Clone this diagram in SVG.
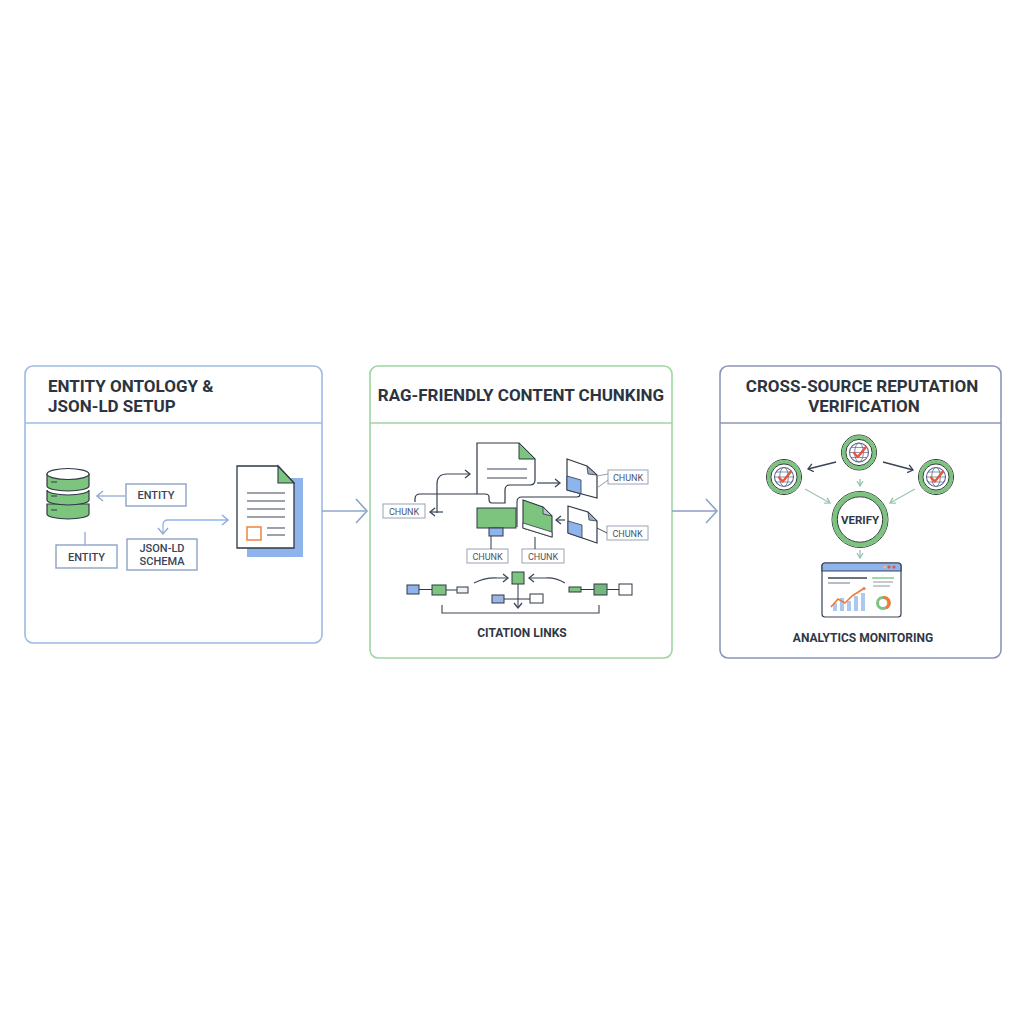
<svg xmlns="http://www.w3.org/2000/svg" width="1024" height="1024" viewBox="0 0 1024 1024">
<defs>
<style>
.title{font-family:Roboto,"Liberation Sans",Arial,sans-serif;font-weight:700;font-size:17px;fill:#2b3440}
.lbl{font-family:Roboto,"Liberation Sans",Arial,sans-serif;font-weight:500;font-size:11px;fill:#3a4456}
.chunk{font-family:Roboto,"Liberation Sans",Arial,sans-serif;font-size:9px;fill:#4a5466}
.cap{font-family:Roboto,"Liberation Sans",Arial,sans-serif;font-weight:700;font-size:12px;fill:#2f3846}
.box{fill:#fff;stroke:#8ea2c4;stroke-width:1.4}
.cbox{fill:#fff;stroke:#9aa3b4;stroke-width:1}
.ink{stroke:#2f3846;stroke-width:1.2}
.green{fill:#7dc47f}
.blue{fill:#8fb4ec}
</style>
<marker id="aDk" markerUnits="userSpaceOnUse" markerWidth="10" markerHeight="10" refX="7" refY="5" orient="auto-start-reverse" viewBox="0 0 10 10"><path d="M2,1 L7,5 L2,9" fill="none" stroke="#3a4456" stroke-width="1.3"/></marker>
<marker id="aBl" markerUnits="userSpaceOnUse" markerWidth="12" markerHeight="12" refX="9" refY="6" orient="auto-start-reverse" viewBox="0 0 12 12"><path d="M3,1 L9,6 L3,11" fill="none" stroke="#8fa8d4" stroke-width="1.4"/></marker>
<marker id="aBig" markerUnits="userSpaceOnUse" markerWidth="16" markerHeight="28" refX="13" refY="14" orient="auto" viewBox="0 0 16 28"><path d="M2,2 L13,14 L2,26" fill="none" stroke="#88a6c4" stroke-width="1.6"/></marker>
<marker id="aGr" markerUnits="userSpaceOnUse" markerWidth="8" markerHeight="8" refX="6" refY="4" orient="auto" viewBox="0 0 8 8"><path d="M1,1 L6,4 L1,7" fill="none" stroke="#8fc2a8" stroke-width="1.3"/></marker>
<g id="globe">
<circle r="17.5" fill="#fff" stroke="#2f3a36" stroke-width="1"/>
<circle r="15.2" fill="none" stroke="#7cc47f" stroke-width="3.8"/>
<circle r="13.1" fill="#fff" stroke="#2f3a36" stroke-width="1"/>
<circle r="9.5" fill="none" stroke="#5a6890" stroke-width="1.1"/>
<ellipse rx="4.3" ry="9.5" fill="none" stroke="#5a6890" stroke-width="0.8"/>
<path d="M-9.5,0 H9.5 M-8,-5 H8 M-8,5 H8" stroke="#5a6890" stroke-width="0.7" fill="none"/>
<path d="M-5,0.5 L-1.2,4.5 L7,-5.5" fill="none" stroke="#e8553a" stroke-width="2.4" stroke-linecap="round" stroke-linejoin="round"/>
</g>
</defs>
<rect width="1024" height="1024" fill="#fff"/>

<!-- Panel 1 -->
<g id="panel-entity">
<rect x="25" y="366" width="297" height="277" rx="8" fill="#fff" stroke="#9dbbe3" stroke-width="1.6"/>
<line x1="25" y1="423" x2="322" y2="423" stroke="#9dbbe3" stroke-width="1.4"/>
<text class="title" x="48" y="392">ENTITY ONTOLOGY &amp;</text>
<text class="title" x="48" y="412">JSON-LD SETUP</text>
</g>
<g id="database">
<path d="M47,504 V514 A21,5 0 0 0 89,514 V504 Z" class="green ink"/>
<path d="M47,490 V500 A21,5 0 0 0 89,500 V490 A21,5 0 0 1 47,490 Z" class="green ink"/>
<path d="M47,474 V486 A21,5 0 0 0 89,486 V474 Z" class="green ink"/>
<ellipse cx="68" cy="474" rx="21" ry="5.5" fill="#fff" class="ink"/>
<path d="M51,482 H57 M51,496 H57 M51,510 H57" stroke="#2f3846" stroke-width="1.2"/>
</g>
<g id="entity1"><rect class="box" x="126" y="484" width="60" height="22"/><text class="lbl" x="156" y="499" text-anchor="middle">ENTITY</text></g>
<g id="entity2"><rect class="box" x="56" y="545" width="61" height="23"/><text class="lbl" x="86.5" y="560.5" text-anchor="middle">ENTITY</text></g>
<g id="jsonld"><rect class="box" x="127" y="539" width="70" height="31"/><text class="lbl" x="162" y="552" text-anchor="middle">JSON-LD</text><text class="lbl" x="162" y="565" text-anchor="middle">SCHEMA</text></g>
<g id="document">
<rect x="247" y="478" width="56" height="79" class="blue"/>
<path d="M237,466 H278 L294,483 V548 H237 Z" fill="#fff" stroke="#2f3846" stroke-width="1.3"/>
<path d="M278,466 L294,483 H278 Z" class="green" stroke="#2f3846" stroke-width="1.1"/>
<path d="M247,493 H285 M247,501 H285 M247,509 H285 M247,517 H285 M267,528 H285 M267,535 H285" stroke="#3a4456" stroke-width="1.2"/>
<rect x="247" y="527" width="14" height="13" fill="#fff" stroke="#f08a4b" stroke-width="1.6"/>
</g>

<!-- Panel 2 -->
<g id="panel-chunking">
<rect x="370" y="366" width="302" height="292" rx="8" fill="#fff" stroke="#9fd6a0" stroke-width="1.6"/>
<line x1="370" y1="423" x2="672" y2="423" stroke="#9fd6a0" stroke-width="1.4"/>
<text class="title" x="521" y="401" text-anchor="middle">RAG-FRIENDLY CONTENT CHUNKING</text>
</g>
<g id="main-doc">
<path d="M477,494 V443 H519 L535,459 V480 Q535,485 530,485 H510 Q505,485 505,490 V503 H492 Q489,503 489,499 V497 Q489,494 485,494 H420 Q415,494 415,499 V502" fill="#fff" stroke="#2f3846" stroke-width="1.2"/>
<path d="M519,443 L535,459 H519 Z" class="green" stroke="#2f3846" stroke-width="1"/>
<path d="M487,469 H527 M487,478 H527" stroke="#3a4456" stroke-width="1.2"/>
</g>
<g id="green-block">
<rect x="477" y="508" width="39" height="20" class="green" stroke="#2f3846" stroke-width="1"/>
<rect x="489" y="528" width="14" height="8" class="blue" stroke="#2f3846" stroke-width="1"/>
</g>
<g id="green-file">
<path d="M523,500 L543,507 L552,516 V537 L523,528 Z" class="green" stroke="#2f3846" stroke-width="1.1"/>
<path d="M523,523 L552,532 V537 L523,528 Z" fill="#fff" stroke="#2f3846" stroke-width="0.8"/>
<path d="M543,507 L552,516 L543,514 Z" fill="#b8c4cc" stroke="#2f3846" stroke-width="0.8"/>
</g>
<g id="small-doc1">
<path d="M567,459 L587,466 L597,475 V498 L567,490 Z" fill="#fff" stroke="#2f3846" stroke-width="1.2"/>
<path d="M567,476 L581,480 V493.7 L567,490 Z" class="blue" stroke="#2f3846" stroke-width="0.8"/>
<path d="M587,466 L597,475 L588,474 Z" fill="#a4aebe" stroke="#2f3846" stroke-width="0.8"/>
</g>
<g id="small-doc2">
<path d="M568,506 L588,512 L597,521 V543 L568,533 Z" fill="#fff" stroke="#2f3846" stroke-width="1.2"/>
<path d="M568,521 L582,525 V537.8 L568,533 Z" class="blue" stroke="#2f3846" stroke-width="0.8"/>
<path d="M588,512 L597,521 L589,520 Z" fill="#a4aebe" stroke="#2f3846" stroke-width="0.8"/>
</g>
<g id="chunk-left"><rect class="cbox" x="383" y="504" width="42" height="14"/><text class="chunk" x="404" y="514.5" text-anchor="middle">CHUNK</text></g>
<g id="chunk-b1"><rect class="cbox" x="467" y="549" width="41" height="14"/><text class="chunk" x="487.5" y="559.5" text-anchor="middle">CHUNK</text></g>
<g id="chunk-b2"><rect class="cbox" x="522" y="549" width="42" height="14"/><text class="chunk" x="543" y="559.5" text-anchor="middle">CHUNK</text></g>
<g id="chunk-r1"><rect class="cbox" x="608" y="470" width="40" height="14"/><text class="chunk" x="628" y="480.5" text-anchor="middle">CHUNK</text></g>
<g id="chunk-r2"><rect class="cbox" x="607" y="526" width="41" height="14"/><text class="chunk" x="627.5" y="536.5" text-anchor="middle">CHUNK</text></g>
<g id="citation">
<rect x="407" y="585" width="12" height="9" class="blue" stroke="#2f3846" stroke-width="1"/>
<rect x="432" y="585" width="14" height="10" class="green" stroke="#2f3846" stroke-width="1"/>
<rect x="457" y="587" width="11" height="6" fill="#eef0f3" stroke="#2f3846" stroke-width="1"/>
<rect x="512" y="572" width="12" height="12" class="green" stroke="#2f3846" stroke-width="1"/>
<rect x="492" y="595" width="12" height="8" fill="#9bb6e0" stroke="#2f3846" stroke-width="1"/>
<rect x="530" y="594" width="13" height="9" fill="#fff" stroke="#2f3846" stroke-width="1"/>
<rect x="569" y="587" width="12" height="5" class="green" stroke="#2f3846" stroke-width="1"/>
<rect x="594" y="584" width="13" height="11" fill="#74b67e" stroke="#2f3846" stroke-width="1"/>
<rect x="619" y="584" width="13" height="11" fill="#fff" stroke="#2f3846" stroke-width="1"/>
<text class="cap" x="522" y="637" text-anchor="middle">CITATION LINKS</text>
</g>

<!-- Panel 3 -->
<g id="panel-verify">
<rect x="720" y="366" width="281" height="292" rx="8" fill="#fff" stroke="#8e94b8" stroke-width="1.6"/>
<line x1="720" y1="423" x2="1001" y2="423" stroke="#8e94b8" stroke-width="1.4"/>
<text class="title" x="862" y="392" text-anchor="middle">CROSS-SOURCE REPUTATION</text>
<text class="title" x="864" y="412" text-anchor="middle">VERIFICATION</text>
</g>
<g id="source-top"><use href="#globe" x="859" y="452.5"/></g>
<g id="source-left"><use href="#globe" x="784" y="477"/></g>
<g id="source-right"><use href="#globe" x="936" y="477"/></g>
<g id="verify">
<circle cx="860" cy="519.5" r="28" fill="#fff" stroke="#2f3a36" stroke-width="1"/>
<circle cx="860" cy="519.5" r="25.3" fill="none" stroke="#7cc47f" stroke-width="4.8"/>
<circle cx="860" cy="519.5" r="22.7" fill="#fff" stroke="#2f3a36" stroke-width="1"/>
<text class="cap" x="860" y="523.5" text-anchor="middle" style="font-size:11.5px">VERIFY</text>
</g>
<g id="dashboard">
<rect x="822" y="563" width="79" height="54" rx="3" fill="#fff" stroke="#3a4456" stroke-width="1.2"/>
<path d="M822,571 V566 Q822,563 825,563 H898 Q901,563 901,566 V571 Z" class="blue" stroke="#3a4456" stroke-width="1.2"/>
<circle cx="885" cy="567" r="1.6" fill="#f4b183"/><circle cx="889" cy="567" r="1.6" fill="#e8553a"/><circle cx="894" cy="567" r="1.6" fill="#e8553a"/>
<path d="M828,578 H867" stroke="#3a4456" stroke-width="1.3"/>
<path d="M828,583 H850" stroke="#7a8496" stroke-width="1.1"/>
<path d="M872,578 H894" stroke="#7cc47f" stroke-width="1.4"/>
<path d="M873,582 H893 M873,586 H890" stroke="#8a94a6" stroke-width="1"/>
<g fill="#a9c9f2"><rect x="833" y="603" width="4" height="8"/><rect x="840" y="598" width="4" height="13"/><rect x="847" y="601" width="4" height="10"/><rect x="854" y="596" width="4" height="15"/><rect x="861" y="593" width="4" height="18"/></g>
<path d="M831,607 L838,599 L845,603 L852,596 L863,589" fill="none" stroke="#f07a3c" stroke-width="1.6" stroke-linejoin="round"/>
<circle cx="864" cy="588.5" r="1.6" fill="#f07a3c"/>
<circle cx="883" cy="603" r="5.5" fill="none" stroke="#7cc47f" stroke-width="3"/>
<path d="M883,597.5 A5.5,5.5 0 0 1 886,608" fill="none" stroke="#f07a3c" stroke-width="3"/>
</g>
<text class="cap" x="863" y="642" text-anchor="middle">ANALYTICS MONITORING</text>

<!-- Connectors -->
<g id="connectors" fill="none">
<path d="M322,511 H367" stroke="#8fa6cc" stroke-width="1.4" marker-end="url(#aBig)"/>
<path d="M672,511 H717" stroke="#8f9cc4" stroke-width="1.4" marker-end="url(#aBig)"/>
<path d="M125,496 H97" stroke="#8fa8d4" stroke-width="1.3" marker-end="url(#aBl)"/>
<path d="M85,532 V545" stroke="#8fa8d4" stroke-width="1.3"/>
<path d="M168,520 H228" stroke="#8fb4ec" stroke-width="1.3" marker-end="url(#aBl)"/>
<path d="M168,520 Q163,520 163,525 V534" stroke="#8fb4ec" stroke-width="1.3" marker-end="url(#aBl)"/>
<path d="M437,513 V484 Q437,474 447,474 H470" stroke="#3a4456" stroke-width="1.2" marker-end="url(#aDk)"/>
<path d="M443,512 H430" stroke="#3a4456" stroke-width="1.2" marker-end="url(#aDk)"/>
<path d="M537,483 H560" stroke="#3a4456" stroke-width="1.2" marker-end="url(#aDk)"/>
<path d="M517,527 V502 Q517,497 522,497 H577 Q580,497 580,494" stroke="#2f3846" stroke-width="1.1"/>
<path d="M565,520 H556" stroke="#3a4456" stroke-width="1.2" marker-end="url(#aDk)"/>
<path d="M597,476 L608,474 M597,488 L608,480" stroke="#8a94a6" stroke-width="0.9"/>
<path d="M597,528 L607,533" stroke="#2f3846" stroke-width="0.9"/>
<path d="M491,536 V549" stroke="#2f3846" stroke-width="1"/>
<path d="M535,537 V549" stroke="#2f3846" stroke-width="1"/>
<path d="M419,589.5 H432 M446,590 H457" stroke="#2f3846" stroke-width="1"/>
<path d="M581,589.5 H594 M607,589.5 H619" stroke="#2f3846" stroke-width="1"/>
<path d="M504,599 H530" stroke="#2f3846" stroke-width="1"/>
<path d="M518,584 V608" stroke="#2f3846" stroke-width="1" marker-end="url(#aDk)"/>
<path d="M474,583 Q486,577 498,578 H508" stroke="#3a4456" stroke-width="1.1" marker-end="url(#aDk)"/>
<path d="M565,583 Q555,577 545,578 H529" stroke="#3a4456" stroke-width="1.1" marker-end="url(#aDk)"/>
<path d="M442,605 V613 H599 V605" stroke="#3a4456" stroke-width="1.1"/>
<path d="M836,462 L808,469" stroke="#3a4456" stroke-width="1.3" marker-end="url(#aDk)"/>
<path d="M883,462 L913,470" stroke="#3a4456" stroke-width="1.3" marker-end="url(#aDk)"/>
<path d="M860,479 V486" stroke="#8fc2a8" stroke-width="1.3" marker-end="url(#aGr)"/>
<path d="M805,489 L830,503" stroke="#9ec4b4" stroke-width="1.2" marker-end="url(#aGr)"/>
<path d="M915,489 L890,503" stroke="#9ec4b4" stroke-width="1.2" marker-end="url(#aGr)"/>
<path d="M860,550 V558" stroke="#9ab4b0" stroke-width="1.2" marker-end="url(#aGr)"/>
</g>
</svg>
